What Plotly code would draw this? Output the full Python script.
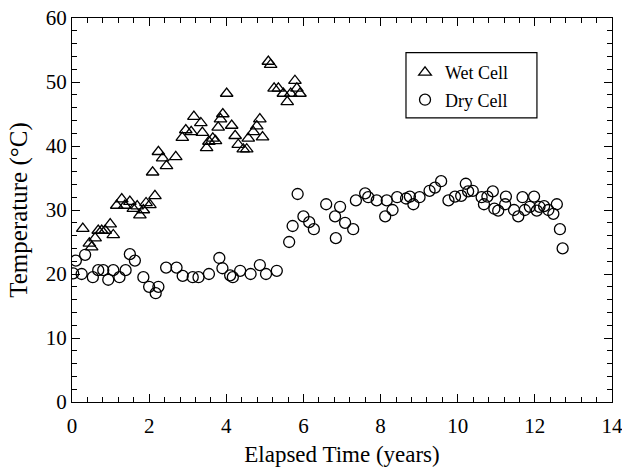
import plotly.graph_objects as go

# Wet cell temperature readings (years, deg C)
wet_years = [0.28, 0.45, 0.51, 0.60, 0.68, 0.77, 0.86, 0.99, 1.07, 1.16, 1.29, 1.37, 1.50,
             1.59, 1.69, 1.76, 1.85, 1.92, 2.02, 2.09, 2.15, 2.24, 2.35, 2.45, 2.69, 2.86,
             2.95, 3.09, 3.16, 3.34, 3.38, 3.49, 3.55, 3.65, 3.72, 3.79, 3.85, 3.91, 4.01,
             4.14, 4.23, 4.31, 4.44, 4.53, 4.57, 4.70, 4.79, 4.87, 4.94, 5.09, 5.15, 5.24,
             5.35, 5.48, 5.58, 5.67, 5.78, 5.83, 5.91]
wet_temp = [27.1, 24.8, 24.2, 25.6, 26.8, 26.8, 26.8, 27.8, 26.1, 30.7, 31.7, 30.7, 31.3,
            30.2, 30.6, 29.2, 30.0, 31.1, 30.8, 35.9, 32.2, 39.1, 38.1, 36.9, 38.3, 41.3,
            42.5, 42.2, 44.6, 43.6, 42.1, 39.7, 40.7, 41.2, 40.8, 42.9, 44.2, 45.0, 48.2,
            43.2, 41.6, 40.2, 39.5, 39.5, 41.2, 42.2, 43.1, 44.2, 41.4, 53.2, 52.7, 49.0,
            49.0, 48.2, 46.9, 48.2, 50.2, 49.0, 48.2]

# Dry cell temperature readings (years, deg C)
dry_years = [0.03, 0.10, 0.25, 0.34, 0.54, 0.68, 0.81, 0.94, 1.07, 1.23, 1.39, 1.50, 1.63,
             1.85, 2.00, 2.17, 2.24, 2.44, 2.71, 2.87, 3.13, 3.28, 3.55, 3.82, 3.90, 4.10,
             4.17, 4.36, 4.63, 4.87, 5.03, 5.31, 5.63, 5.72, 5.85, 6.00, 6.15, 6.27, 6.59,
             6.82, 6.84, 6.95, 7.08, 7.29, 7.36, 7.60, 7.68, 7.90, 8.12, 8.16, 8.31, 8.43,
             8.66, 8.76, 8.85, 9.01, 9.27, 9.41, 9.57, 9.76, 9.93, 10.09, 10.21, 10.27,
             10.39, 10.62, 10.68, 10.77, 10.91, 10.95, 11.05, 11.23, 11.25, 11.46, 11.57,
             11.68, 11.74, 11.87, 11.98, 12.05, 12.12, 12.24, 12.35, 12.48, 12.57, 12.65,
             12.72]
dry_temp = [20.1, 22.1, 20.0, 23.0, 19.5, 20.6, 20.6, 19.1, 20.6, 19.5, 20.6, 23.1, 22.1,
            19.5, 18.0, 17.0, 18.0, 21.0, 21.0, 19.7, 19.5, 19.5, 20.0, 22.5, 20.9, 19.8,
            19.5, 20.5, 20.0, 21.4, 20.0, 20.5, 25.0, 27.5, 32.5, 29.0, 28.1, 27.0, 30.9,
            29.0, 25.6, 30.5, 28.0, 27.0, 31.5, 32.6, 32.0, 31.5, 29.0, 31.5, 30.0, 32.0,
            31.8, 32.1, 30.9, 32.0, 33.0, 33.5, 34.5, 31.5, 32.1, 32.2, 34.1, 32.9,
            33.0, 32.0, 30.9, 32.1, 32.9, 30.2, 29.9, 30.9, 32.1, 30.0, 29.0,
            32.0, 30.0, 30.5, 32.1, 29.9, 30.5, 30.6, 30.0, 29.4, 30.9, 27.0,
            24.0]

font = "Liberation Serif, Times New Roman, serif"

fig = go.Figure()
fig.add_trace(go.Scatter(x=wet_years, y=wet_temp, mode="markers", name="Wet Cell",
                         legendgroup="wet",
                         marker=dict(symbol="triangle-up-open", size=11, color="black",
                                     line=dict(width=1.3))))
fig.add_trace(go.Scatter(x=dry_years, y=dry_temp, mode="markers", name="Dry Cell",
                         legendgroup="dry",
                         marker=dict(symbol="circle-open", size=11, color="black",
                                     line=dict(width=1.3))))

axis_common = dict(showline=True, linecolor="black", linewidth=1.3, mirror="ticks",
                   ticks="inside", ticklen=8, tickwidth=1.3, tickcolor="black",
                   showgrid=False, zeroline=False, automargin=False,
                   ticklabeloverflow="allow",
                   tickfont=dict(size=21, color="black"))

fig.update_xaxes(range=[0, 14], dtick=2, ticklabelstandoff=5,
                 minor=dict(dtick=0.4, ticks="inside", ticklen=5, tickwidth=1.2,
                            tickcolor="black", showgrid=False),
                 title=dict(text="Elapsed Time (years)", font=dict(size=23, color="black"),
                            standoff=8),
                 **axis_common)
fig.update_yaxes(range=[0, 60], dtick=10,
                 minor=dict(dtick=2, ticks="inside", ticklen=5, tickwidth=1.2,
                            tickcolor="black", showgrid=False),
                 title=dict(text="Temperature (°C)", font=dict(size=25, color="black"),
                            standoff=10),
                 **axis_common)

# legend frame drawn as a shape so it can be sized like the original
fig.add_shape(type="rect", xref="paper", yref="paper",
              x0=0.6185, x1=0.861, y0=0.740, y1=0.9096,
              line=dict(color="black", width=1.2), fillcolor="rgba(0,0,0,0)")

fig.update_layout(
    width=622, height=467,
    margin=dict(l=72, r=10, t=18, b=65),
    plot_bgcolor="white", paper_bgcolor="white",
    font=dict(family=font, color="black"),
    legend=dict(x=0.6167, y=0.906, xanchor="left", yanchor="top",
                borderwidth=0, bgcolor="rgba(0,0,0,0)", tracegroupgap=1,
                font=dict(size=18)),
)

# drop the default 8px page margin so the figure fills the window
fig.write_html("out.html", config={"displayModeBar": False},
               post_script="document.body.style.margin='0px';")
